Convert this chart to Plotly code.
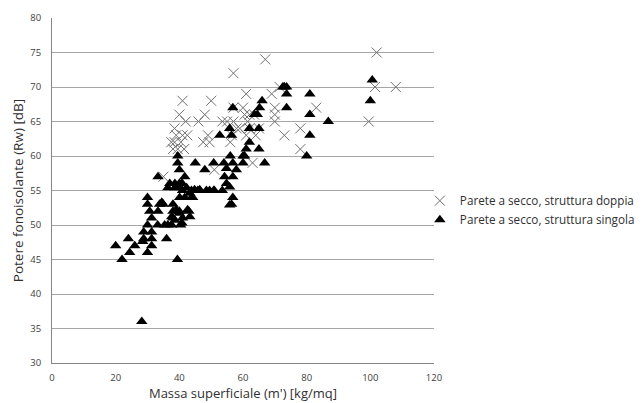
import plotly.graph_objects as go

# Parete a secco, struttura doppia (crosses)
doppia_x = [102, 108, 101.5, 99.5, 67, 57, 41, 50, 61, 69, 71.5, 83, 78, 78, 73,
            70, 70, 70, 40, 48, 42, 46, 53.5, 55, 57, 60, 60.5, 62, 63.5, 61.5, 57,
            58, 56.5, 61, 64, 59, 56, 38.5, 39, 42.5, 49, 47.5, 49.5, 37.5, 38.5,
            40.5, 39.5, 41.5, 38, 41, 35, 51, 63, 65, 62]
doppia_y = [75, 70, 70, 65, 74, 72, 68, 68, 69, 69, 70, 67, 64, 61, 63,
            67, 66, 65, 66, 66, 65, 65, 65, 65, 67, 67, 66, 66, 66, 65, 65,
            64, 63, 63, 63, 64, 62, 64, 63, 63, 63, 62, 62, 62, 62,
            62, 61, 61, 61, 63, 57, 58, 59, 64, 64]

# Parete a secco, struttura singola (triangles)
singola_x = [72.5, 73, 73.7, 73.7, 81, 73.7, 81, 86.8, 100.6, 100, 81, 80,
             66, 65.2, 64.5, 63.6, 56.8, 52.7, 55.8, 56.4, 62, 65, 62, 65, 61, 60, 56, 66.8,
             48, 50.8, 54, 56.8, 60, 60.5, 54.8, 57.9, 54.2, 56.8, 54.8, 55.8,
             48.5, 50.8, 53.5, 56.8, 56.4, 55.8, 45,
             39.5, 39.5, 40, 41.7, 33.3, 37, 38.6, 40, 40.8, 36.4, 38.6, 40.1, 42.3, 41,
             43.8, 45.8, 49.5, 51, 44.8, 46.4,
             30, 40.1, 41.7, 43.8, 44.2, 43.3,
             30, 33.8, 34.5, 34.9, 38,
             30.7, 33.3, 38, 39, 40, 42.6, 43,
             31.3, 38, 41, 37.6, 43.3, 40,
             30, 33.2, 35.4, 36.4, 37.6, 38.6, 40.4, 40.8,
             28.8, 31.3, 28.8, 31.3, 36, 24, 28.5,
             20, 26, 31.3, 24.4, 30, 22, 39.4, 28.2]
singola_y = [70, 70, 70, 69, 69, 67, 66, 65, 71, 68, 63, 60,
             68, 67, 66, 66, 67, 63, 64, 63, 64, 64, 62, 61, 61, 60, 60, 59,
             58, 59, 59, 59, 59, 60, 58.2, 58, 57, 57, 56, 55.5,
             55, 55, 55, 54, 53, 52.9, 59,
             60, 59, 58, 57, 57, 56, 56, 56, 56.1, 55.4, 55.4, 55.4, 55.4, 55,
             55, 55, 55, 55, 55.1, 55.1,
             54, 54, 54, 54, 54, 54.6,
             53, 53, 53.3, 53, 53,
             52, 52, 52, 52.2, 52, 52.2, 52,
             51, 51, 51, 51.2, 51.2, 51.7,
             50, 50, 50, 50, 50, 50.7, 50, 50.3,
             49, 49, 48, 48, 48, 48, 47.6,
             47, 47, 47, 46, 46, 45, 45, 36]

x_ticks = [0, 20, 40, 60, 80, 100, 120]
y_ticks = [30, 35, 40, 45, 50, 55, 60, 65, 70, 75, 80]

font_family = "Open Sans, Liberation Sans, Arial, sans-serif"

fig = go.Figure()
fig.add_trace(go.Scatter(
    x=doppia_x, y=doppia_y, mode="markers",
    name="Parete a secco, struttura doppia",
    marker=dict(symbol="x-thin-open", size=10, color="#707070",
                line=dict(color="#707070", width=1)),
))
fig.add_trace(go.Scatter(
    x=singola_x, y=singola_y, mode="markers",
    name="Parete a secco, struttura singola",
    marker=dict(symbol="triangle-up", size=10, color="black",
                line=dict(width=0)),
))

fig.update_layout(
    width=644, height=403,
    margin=dict(l=44, r=218, t=10, b=48),
    paper_bgcolor="white", plot_bgcolor="white",
    font=dict(family=font_family, size=10, color="#404040"),
    showlegend=True,
    legend=dict(x=0.963, y=0.443, xanchor="left", yanchor="middle",
                font=dict(size=11.7, color="#303030"),
                itemsizing="trace", tracegroupgap=0,
                bgcolor="rgba(0,0,0,0)"),
    xaxis=dict(range=[0, 120], tickvals=x_ticks, showgrid=False,
               showline=True, linecolor="#868686", linewidth=1,
               ticks="", zeroline=False, automargin=False,
               ticklabelstandoff=6,
               tickfont=dict(size=9.5, color="#404040"),
               title=dict(text="Massa superficiale (m') [kg/mq]",
                          font=dict(size=13, color="#303030"), standoff=4)),
    yaxis=dict(range=[30, 80], tickvals=y_ticks, showgrid=True,
               gridcolor="#a6a6a6", gridwidth=1,
               showline=True, linecolor="#868686", linewidth=1,
               ticks="", zeroline=False, automargin=False,
               ticklabelstandoff=8,
               tickfont=dict(size=9.5, color="#404040"),
               title=dict(text="Potere fonoisolante (Rw) [dB]",
                          font=dict(size=13.5, color="#303030"), standoff=3)),
)

fig.write_html("out.html")
